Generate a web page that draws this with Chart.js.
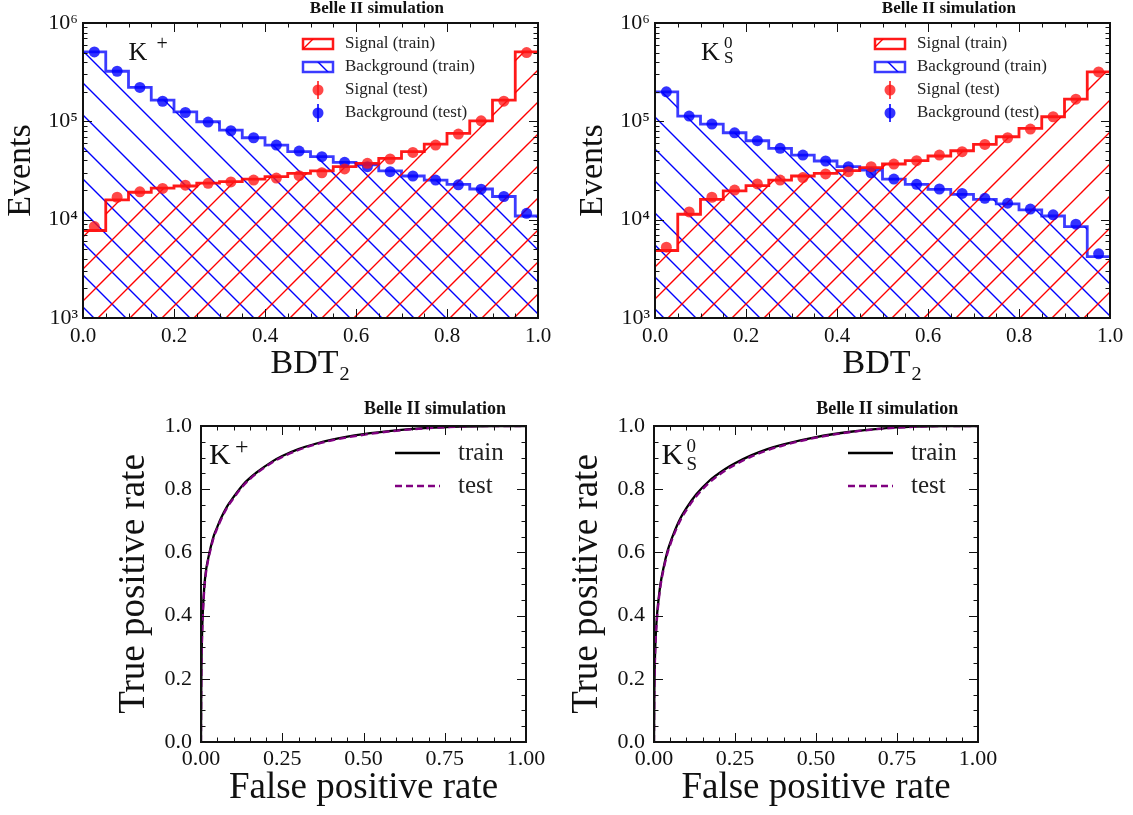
<!DOCTYPE html>
<html>
<head>
<meta charset="utf-8">
<script src="https://cdn.jsdelivr.net/npm/chart.js@4.4.1/dist/chart.umd.min.js"></script>
<style>
  body { margin: 0; background: #fff; width: 1133px; height: 815px; position: relative; overflow: hidden; }
  canvas { position: absolute; }
</style>
</head>
<body>
<canvas id="histKp" width="560" height="390" style="left:0;top:0"></canvas>
<canvas id="histKs" width="563" height="390" style="left:570px;top:0"></canvas>
<canvas id="rocKp" width="450" height="425" style="left:100px;top:390px"></canvas>
<canvas id="rocKs" width="450" height="425" style="left:560px;top:390px"></canvas>
<script>
// BDT2 output, 20 bins
const binEdges = [0, 0.05, 0.1, 0.15, 0.2, 0.25, 0.3, 0.35, 0.4, 0.45, 0.5, 0.55, 0.6, 0.65, 0.7, 0.75, 0.8, 0.85, 0.9, 0.95, 1.0];
const binCenters = [0.025, 0.075, 0.125, 0.175, 0.225, 0.275, 0.325, 0.375, 0.425, 0.475, 0.525, 0.575, 0.625, 0.675, 0.725, 0.775, 0.825, 0.875, 0.925, 0.975];

// K+ channel
const kpSignalTrain = [7760, 15900, 19000, 20900, 22000, 23500, 24400, 25900, 27400, 29600, 31300, 34600, 37400, 42000, 49100, 58700, 75300, 101000, 164000, 508000];
const kpSignalTest = [8500, 16900, 19200, 20800, 22400, 23400, 24200, 25300, 26500, 28000, 30000, 32800, 37400, 41400, 48300, 57400, 74200, 101300, 160400, 500000];
const kpBkgTrain = [508000, 323000, 221000, 164000, 125000, 99000, 81500, 68100, 57400, 49100, 43700, 38300, 36000, 31300, 27800, 25300, 22900, 20500, 17200, 10900];
const kpBkgTest = [508000, 323000, 221000, 160000, 123000, 98200, 80200, 68100, 57400, 49900, 43700, 38300, 34600, 30800, 27800, 25300, 22600, 20400, 17200, 11600];

// K0S channel
const ksSignalTrain = [4860, 11350, 16100, 19600, 22200, 25300, 27800, 29600, 31500, 33800, 36800, 39800, 44400, 50200, 58300, 69700, 84700, 111300, 168000, 318000];
const ksSignalTest = [5250, 12000, 16900, 20000, 23100, 25300, 26800, 29200, 30800, 34600, 36800, 39800, 45400, 49100, 58300, 68100, 83400, 111300, 168000, 318000];
const ksBkgTrain = [199500, 113000, 93700, 76500, 63500, 53100, 45400, 39500, 34600, 32000, 25900, 22900, 20300, 18100, 16100, 14500, 12600, 10900, 8500, 4200];
const ksBkgTest = [199500, 113000, 93700, 76500, 63500, 53100, 45400, 39500, 34600, 30000, 25900, 22900, 20500, 18500, 16500, 14700, 12800, 11200, 9000, 4500];

const logTickValues = [1e3, 1e4, 1e5, 1e6];
const logTickLabels = ['10³', '10⁴', '10⁵', '10⁶'];

// ROC curves
const rocFpr = [0, 0.001, 0.003, 0.006, 0.01, 0.015, 0.02, 0.03, 0.04, 0.05, 0.06, 0.08, 0.10, 0.13, 0.17, 0.22, 0.25, 0.30, 0.35, 0.40, 0.50, 0.60, 0.70, 0.80, 0.90, 1.0];
const rocKpTrain = [0, 0.20, 0.33, 0.42, 0.49, 0.54, 0.57, 0.617, 0.655, 0.68, 0.705, 0.745, 0.775, 0.815, 0.852, 0.888, 0.905, 0.927, 0.943, 0.956, 0.974, 0.986, 0.994, 0.998, 1.0, 1.0];
const rocKpTest = [0, 0.18, 0.32, 0.41, 0.48, 0.533, 0.565, 0.612, 0.65, 0.676, 0.70, 0.741, 0.771, 0.811, 0.849, 0.885, 0.902, 0.924, 0.941, 0.954, 0.972, 0.985, 0.993, 0.998, 1.0, 1.0];
const rocKsTrain = [0, 0.15, 0.27, 0.35, 0.41, 0.46, 0.50, 0.554, 0.598, 0.63, 0.658, 0.705, 0.74, 0.783, 0.826, 0.864, 0.882, 0.907, 0.927, 0.942, 0.965, 0.981, 0.992, 0.998, 1.0, 1.0];
const rocKsTest = [0, 0.14, 0.26, 0.34, 0.40, 0.452, 0.493, 0.548, 0.592, 0.624, 0.652, 0.699, 0.734, 0.777, 0.82, 0.859, 0.877, 0.903, 0.923, 0.939, 0.963, 0.98, 0.991, 0.997, 1.0, 1.0];

const serif = "'Liberation Serif', 'DejaVu Serif', serif";
const ink = '#111';
const RED = 'rgba(255,0,0,0.9)';
const BLUE = 'rgba(10,10,255,0.8)';
const RED_PT = 'rgba(255,20,20,0.78)';
const BLUE_PT = 'rgba(0,0,255,0.8)';

// diagonal hatch tile used as fill under the histograms
function makeHatch(ctx, color, dir) {
  const s = 32;
  const c = document.createElement('canvas');
  c.width = s; c.height = s;
  const g = c.getContext('2d');
  g.strokeStyle = color;
  g.lineWidth = 1.4;
  g.beginPath();
  if (dir === '/') {
    g.moveTo(-2, s + 2); g.lineTo(s + 2, -2);
    g.moveTo(-2, 2); g.lineTo(2, -2);
    g.moveTo(s - 2, s + 2); g.lineTo(s + 2, s - 2);
  } else {
    g.moveTo(-2, -2); g.lineTo(s + 2, s + 2);
    g.moveTo(s - 2, -2); g.lineTo(s + 2, 2);
    g.moveTo(-2, s - 2); g.lineTo(2, s + 2);
  }
  g.stroke();
  return ctx.createPattern(c, 'repeat');
}

// frame, inward ticks, heading, particle label and legend
const decor = {
  id: 'decor',
  afterDraw(chart, args, o) {
    const { ctx, chartArea: a, scales: { x, y } } = chart;
    ctx.save();
    const seg = (x1, y1, x2, y2) => { ctx.beginPath(); ctx.moveTo(x1, y1); ctx.lineTo(x2, y2); ctx.stroke(); };
    ctx.strokeStyle = ink;
    ctx.lineWidth = 1;

    const xMinor = [], yMinor = [];
    for (let v = x.min; v <= x.max + 1e-9; v += o.xMinorStep) xMinor.push(v);
    if (o.logY) {
      for (let d = 3; d < 6; d++) for (let m = 2; m < 10; m++) yMinor.push(m * Math.pow(10, d));
    } else {
      for (let v = y.min; v <= y.max + 1e-9; v += o.yMinorStep) yMinor.push(v);
    }
    xMinor.forEach(v => { const p = Math.round(x.getPixelForValue(v)) + 0.5; seg(p, a.bottom, p, a.bottom - 4.5); seg(p, a.top, p, a.top + 4.5); });
    yMinor.forEach(v => { const p = Math.round(y.getPixelForValue(v)) + 0.5; seg(a.left, p, a.left + 4.5, p); seg(a.right, p, a.right - 4.5, p); });
    x.ticks.forEach(t => { const p = Math.round(x.getPixelForValue(t.value)) + 0.5; seg(p, a.bottom, p, a.bottom - 9); seg(p, a.top, p, a.top + 9); });
    y.ticks.forEach(t => { const p = Math.round(y.getPixelForValue(t.value)) + 0.5; seg(a.left, p, a.left + 9, p); seg(a.right, p, a.right - 9, p); });

    ctx.lineWidth = 2;
    ctx.strokeRect(a.left, a.top, a.right - a.left, a.bottom - a.top);

    // heading
    ctx.fillStyle = ink;
    ctx.font = `bold ${o.headSize}px ${serif}`;
    ctx.textAlign = 'center';
    ctx.textBaseline = 'middle';
    ctx.fillText('Belle II simulation', a.left + o.headFrac * (a.right - a.left), o.headY);

    // particle label
    const p = o.particle;
    const kx = a.left + p.dx, ky = a.top + p.dy;
    ctx.textAlign = 'left';
    ctx.textBaseline = 'alphabetic';
    ctx.font = `${p.size}px ${serif}`;
    ctx.fillText('K', kx, ky);
    ctx.font = `${p.supSize}px ${serif}`;
    ctx.fillText(p.sup, kx + p.supDx, ky + p.supDy);
    if (p.sub) ctx.fillText(p.sub, kx + p.subDx, ky + p.subDy);

    // legend
    const L = o.legend;
    ctx.font = `${L.size}px ${serif}`;
    ctx.textBaseline = 'middle';
    L.rows.forEach((r, i) => {
      const ly = a.top + L.dy + i * L.gap;
      const lx = a.left + L.dx;
      const ds = chart.data.datasets[r.ds];
      if (r.kind === 'patch') {
        ctx.fillStyle = ds.backgroundColor;
        ctx.fillRect(lx, ly - 5, 30, 10);
        ctx.strokeStyle = ds.borderColor;
        ctx.lineWidth = 2.5;
        ctx.strokeRect(lx, ly - 5, 30, 10);
      } else if (r.kind === 'marker') {
        ctx.strokeStyle = ds.pointBackgroundColor;
        ctx.lineWidth = 2;
        seg(lx + 15, ly - 9, lx + 15, ly + 9);
        ctx.fillStyle = ds.pointBackgroundColor;
        ctx.beginPath(); ctx.arc(lx + 15, ly, 5.5, 0, Math.PI * 2); ctx.fill();
      } else {
        ctx.strokeStyle = ds.borderColor;
        ctx.lineWidth = ds.borderWidth;
        ctx.setLineDash(ds.borderDash || []);
        seg(lx, ly, lx + 45, ly);
        ctx.setLineDash([]);
      }
      ctx.fillStyle = '#222';
      ctx.fillText(ds.label, a.left + L.textDx, ly);
    });
    ctx.restore();
  }
};

function axisFont(size) { return { family: serif, size: size }; }

function histChart(id, sigTrain, sigTest, bkgTrain, bkgTest, box, particle) {
  const canvas = document.getElementById(id);
  const ctx = canvas.getContext('2d');
  const steps = vals => binEdges.map((x, i) => ({ x, y: vals[Math.min(i, vals.length - 1)] }));
  const points = vals => binCenters.map((x, i) => ({ x, y: vals[i] }));
  return new Chart(ctx, {
    type: 'line',
    data: {
      datasets: [
        { label: 'Signal (test)', data: points(sigTest), showLine: false, pointRadius: 5.5, pointBorderWidth: 0, pointBackgroundColor: RED_PT },
        { label: 'Background (test)', data: points(bkgTest), showLine: false, pointRadius: 5.5, pointBorderWidth: 0, pointBackgroundColor: BLUE_PT },
        { label: 'Signal (train)', data: steps(sigTrain), stepped: true, pointRadius: 0, borderColor: RED, borderWidth: 2.8,
          borderJoinStyle: 'miter', fill: 'start', backgroundColor: makeHatch(ctx, '#ff0000', '/') },
        { label: 'Background (train)', data: steps(bkgTrain), stepped: true, pointRadius: 0, borderColor: BLUE, borderWidth: 2.8,
          borderJoinStyle: 'miter', fill: 'start', backgroundColor: makeHatch(ctx, '#0000ff', '\\') }
      ]
    },
    options: {
      responsive: false,
      animation: false,
      layout: { padding: { left: 0, right: box.right, top: box.top, bottom: 0 } },
      plugins: {
        legend: { display: false },
        tooltip: { enabled: false },
        decor: {
          xMinorStep: 0.05, logY: true,
          headSize: 17, headFrac: 0.646, headY: 8.5,
          particle,
          legend: { size: 17, dx: 220, dy: 21, gap: 23, textDx: 262,
            rows: [{ kind: 'patch', ds: 2 }, { kind: 'patch', ds: 3 }, { kind: 'marker', ds: 0 }, { kind: 'marker', ds: 1 }] }
        }
      },
      scales: {
        x: {
          type: 'linear', min: 0, max: 1,
          ticks: { stepSize: 0.2, callback: v => v.toFixed(1), font: axisFont(21), color: ink, padding: 6, maxRotation: 0 },
          grid: { display: false, drawTicks: false }, border: { display: false },
          title: { display: true, text: 'BDT₂', font: axisFont(34), color: ink, padding: { top: 0, bottom: 6 } },
          afterFit: s => { s.height = 72; }
        },
        y: {
          type: 'logarithmic', min: 1e3, max: 1e6,
          afterBuildTicks: s => { s.ticks = logTickValues.map(value => ({ value })); },
          ticks: { callback: v => logTickLabels[logTickValues.indexOf(v)], font: axisFont(22), color: ink, padding: 5, autoSkip: false },
          grid: { display: false, drawTicks: false }, border: { display: false },
          title: { display: true, text: 'Events', font: axisFont(34), color: ink, padding: { top: box.titlePad, bottom: 0 } },
          afterFit: s => { s.width = box.yWidth; }
        }
      }
    },
    plugins: [decor]
  });
}

function rocChart(id, tprTrain, tprTest, box, particle) {
  const ctx = document.getElementById(id).getContext('2d');
  const curve = tpr => rocFpr.map((x, i) => ({ x, y: tpr[i] }));
  return new Chart(ctx, {
    type: 'line',
    data: {
      datasets: [
        { label: 'test', data: curve(tprTest), borderColor: '#800080', borderWidth: 2.3, borderDash: [7, 4], pointRadius: 0,
          cubicInterpolationMode: 'monotone', fill: false },
        { label: 'train', data: curve(tprTrain), borderColor: '#000', borderWidth: 2.3, pointRadius: 0,
          cubicInterpolationMode: 'monotone', fill: false }
      ]
    },
    options: {
      responsive: false,
      animation: false,
      layout: { padding: { left: 0, right: box.right, top: 36, bottom: 0 } },
      plugins: {
        legend: { display: false },
        tooltip: { enabled: false },
        decor: {
          xMinorStep: 0.05, yMinorStep: 0.05, logY: false,
          headSize: 18, headFrac: 0.72, headY: 19.7,
          particle,
          legend: { size: 25, dx: 194, dy: 27, gap: 33, textDx: 257,
            rows: [{ kind: 'line', ds: 1 }, { kind: 'line', ds: 0 }] }
        }
      },
      scales: {
        x: {
          type: 'linear', min: 0, max: 1,
          ticks: { stepSize: 0.25, callback: v => v.toFixed(2), font: axisFont(22), color: ink, padding: 4, maxRotation: 0 },
          grid: { display: false, drawTicks: false }, border: { display: false },
          title: { display: true, text: 'False positive rate', font: axisFont(37), color: ink, padding: { top: 0, bottom: 4.6 } },
          afterFit: s => { s.height = 73; }
        },
        y: {
          type: 'linear', min: 0, max: 1,
          ticks: { stepSize: 0.2, callback: v => v.toFixed(1), font: axisFont(22), color: ink, padding: 9 },
          grid: { display: false, drawTicks: false }, border: { display: false },
          title: { display: true, text: 'True positive rate', font: axisFont(37), color: ink, padding: { top: box.titlePad, bottom: 0 } },
          afterFit: s => { s.width = box.yWidth; }
        }
      }
    },
    plugins: [decor]
  });
}

histChart('histKp', kpSignalTrain, kpSignalTest, kpBkgTrain, kpBkgTest,
  { right: 22, top: 23, yWidth: 83, titlePad: 0.5 },
  { dx: 45.6, dy: 37, size: 26, sup: '+', supSize: 20, supDx: 28, supDy: -10 });
histChart('histKs', ksSignalTrain, ksSignalTest, ksBkgTrain, ksBkgTest,
  { right: 23, top: 23, yWidth: 85, titlePad: 2.5 },
  { dx: 46, dy: 37, size: 26, sup: '0', supSize: 17, supDx: 23, supDy: -12, sub: 'S', subDx: 23, subDy: 3 });
rocChart('rocKp', rocKpTrain, rocKpTest,
  { right: 24, yWidth: 101, titlePad: 12 },
  { dx: 8, dy: 38, size: 30, sup: '+', supSize: 24, supDx: 26, supDy: -10 });
rocChart('rocKs', rocKsTrain, rocKsTest,
  { right: 32, yWidth: 94, titlePad: 5.3 },
  { dx: 7.4, dy: 38, size: 30, sup: '0', supSize: 19, supDx: 25, supDy: -12, sub: 'S', subDx: 25, subDy: 6 });
</script>
</body>
</html>
